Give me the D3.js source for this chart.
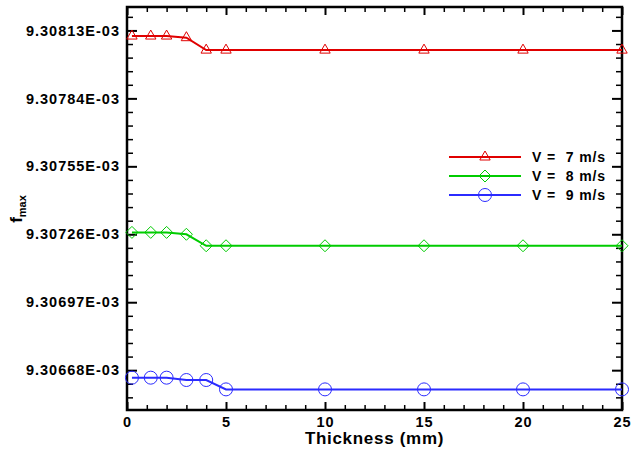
<!DOCTYPE html>
<html>
<head>
<meta charset="utf-8">
<script src="https://cdn.jsdelivr.net/npm/d3@7"></script>
<style>
  body { margin: 0; background: #fff; }
  svg { font-family: "Liberation Sans", Arial, sans-serif; font-weight: bold; }
</style>
</head>
<body>
<div id="chart"></div>
<script>
// thickness in mm, f_max values in units of 1E-03
const thickness = [0.25, 1.2, 2, 3, 4, 5, 10, 15, 20, 25];
const fV7 = [9.308106, 9.308106, 9.308106, 9.308099, 9.308046, 9.308046, 9.308046, 9.308046, 9.308046, 9.308046];
const fV8 = [9.307268, 9.307268, 9.307268, 9.307260, 9.307211, 9.307211, 9.307211, 9.307211, 9.307211, 9.307211];
const fV9 = [9.306648, 9.306648, 9.306648, 9.306638, 9.306638, 9.306598, 9.306598, 9.306598, 9.306598, 9.306598];
const xTicks = [0, 5, 10, 15, 20, 25];
const yTicks = [9.30668, 9.30697, 9.30726, 9.30755, 9.30784, 9.30813];
const yTickLabels = ["9.30668E-03", "9.30697E-03", "9.30726E-03", "9.30755E-03", "9.30784E-03", "9.30813E-03"];
const seriesNames = ["V =  7 m/s", "V =  8 m/s", "V =  9 m/s"];

const W = 632, H = 450;
const margin = { top: 7, right: 10, bottom: 40, left: 127 },
      width = W - margin.left - margin.right,
      height = H - margin.top - margin.bottom;

const svg = d3.select("#chart").append("svg")
    .attr("width", W)
    .attr("height", H);
const g = svg.append("g")
    .attr("transform", `translate(${margin.left},${margin.top})`);

const x = d3.scaleLinear().domain([0, 25]).range([0, width]);
const y = d3.scaleLinear().domain([9.30651, 9.30823]).range([height, 0]);

// minor ticks
const xMinor = d3.range(0, 26, 1).filter(v => v % 5 !== 0);
const yStep = 0.00029 / 5;
const yMinor = d3.range(-7, 33).map(i => 9.30668 + i * yStep)
    .filter((v, i) => (i - 7) % 5 !== 0 && v > 9.30651 && v < 9.30823);

function styleAxis(sel, w) {
    sel.select(".domain").remove();
    sel.selectAll("line").attr("stroke", "#000").attr("stroke-width", w);
    sel.selectAll("text").attr("fill", "#000")
        .style("font-size", "14.5px").style("font-weight", "bold")
        .style("letter-spacing", "1px");
}

// bottom
g.append("g").attr("transform", `translate(0,${height})`)
    .call(d3.axisBottom(x).tickValues(xTicks).tickSizeInner(-8).tickSizeOuter(0).tickPadding(7))
    .call(s => styleAxis(s, 2));
g.append("g").attr("transform", `translate(0,${height})`)
    .call(d3.axisBottom(x).tickValues(xMinor).tickSizeInner(-5).tickSizeOuter(0).tickFormat(""))
    .call(s => styleAxis(s, 1.5));
// top
g.append("g")
    .call(d3.axisTop(x).tickValues(xTicks).tickSizeInner(-8).tickSizeOuter(0).tickFormat(""))
    .call(s => styleAxis(s, 2));
g.append("g")
    .call(d3.axisTop(x).tickValues(xMinor).tickSizeInner(-5).tickSizeOuter(0).tickFormat(""))
    .call(s => styleAxis(s, 1.5));
// left
g.append("g")
    .call(d3.axisLeft(y).tickValues(yTicks).tickSizeInner(-10).tickSizeOuter(0).tickPadding(7)
        .tickFormat((d, i) => yTickLabels[i]))
    .call(s => styleAxis(s, 2));
g.append("g")
    .call(d3.axisLeft(y).tickValues(yMinor).tickSizeInner(-6).tickSizeOuter(0).tickFormat(""))
    .call(s => styleAxis(s, 1.5));
// right
g.append("g").attr("transform", `translate(${width},0)`)
    .call(d3.axisRight(y).tickValues(yTicks).tickSizeInner(-10).tickSizeOuter(0).tickFormat(""))
    .call(s => styleAxis(s, 2));
g.append("g").attr("transform", `translate(${width},0)`)
    .call(d3.axisRight(y).tickValues(yMinor).tickSizeInner(-6).tickSizeOuter(0).tickFormat(""))
    .call(s => styleAxis(s, 1.5));

// frame
g.append("rect")
    .attr("x", 0).attr("y", 0)
    .attr("width", width).attr("height", height)
    .attr("fill", "none").attr("stroke", "#000").attr("stroke-width", 2.5);

// marker shapes
const triangle = "M0,-6L5.2,3L-5.2,3Z";
const diamond = "M0,-6L6,0L0,6L-6,0Z";
const circle = d3.symbol().type(d3.symbolCircle).size(Math.PI * 6.5 * 6.5)();

const series = [
    { name: seriesNames[0], values: fV7, color: "#e00000", marker: triangle },
    { name: seriesNames[1], values: fV8, color: "#00cc00", marker: diamond },
    { name: seriesNames[2], values: fV9, color: "#2b2bff", marker: circle }
];

const line = d3.line()
    .x((d, i) => x(thickness[i]))
    .y(d => y(d));

series.forEach(s => {
    g.append("path")
        .datum(s.values)
        .attr("d", line)
        .attr("fill", "none")
        .attr("stroke", s.color)
        .attr("stroke-width", 2);

    g.selectAll(null)
        .data(s.values)
        .enter().append("path")
        .attr("transform", (d, i) => `translate(${x(thickness[i])},${y(d)})`)
        .attr("d", s.marker)
        .attr("fill", "none")
        .attr("stroke", s.color)
        .attr("stroke-width", 1);
});

// legend
const legend = svg.append("g").attr("transform", "translate(449,157)");
series.forEach((s, i) => {
    const row = legend.append("g").attr("transform", `translate(0,${i * 19})`);
    row.append("line")
        .attr("x1", 0).attr("x2", 72)
        .attr("stroke", s.color).attr("stroke-width", 2);
    row.append("path")
        .attr("transform", "translate(36,0)")
        .attr("d", s.marker)
        .attr("fill", "none")
        .attr("stroke", s.color)
        .attr("stroke-width", 1);
    row.append("text")
        .attr("x", 83)
        .attr("dy", "0.36em")
        .style("font-size", "14px")
        .style("letter-spacing", "0.9px")
        .style("white-space", "pre")
        .text(s.name);
});

// axis titles
svg.append("text")
    .attr("x", margin.left + width / 2)
    .attr("y", 444)
    .attr("text-anchor", "middle")
    .style("font-size", "17px")
    .style("letter-spacing", "0.7px")
    .text("Thickness (mm)");

const yTitle = svg.append("text")
    .attr("transform", `translate(22,209) rotate(-90)`)
    .attr("text-anchor", "middle")
    .style("font-size", "17px");
yTitle.append("tspan").text("f");
yTitle.append("tspan")
    .attr("dy", 4)
    .style("font-size", "11px")
    .text("max");
</script>
</body>
</html>
